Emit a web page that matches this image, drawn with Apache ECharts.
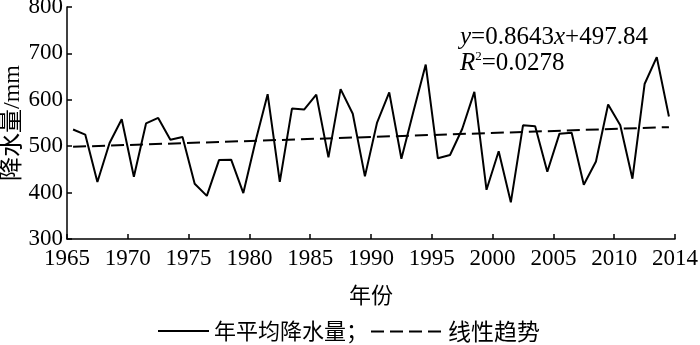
<!DOCTYPE html>
<html>
<head>
<meta charset="utf-8">
<script src="https://cdn.jsdelivr.net/npm/echarts@6/dist/echarts.min.js"></script>
<style>html,body{margin:0;padding:0;background:#fff}#c{width:700px;height:345px}</style>
</head>
<body>
<div id="c"></div>
<script>
const years = [1965,1966,1967,1968,1969,1970,1971,1972,1973,1974,1975,1976,1977,1978,1979,1980,1981,1982,1983,1984,1985,1986,1987,1988,1989,1990,1991,1992,1993,1994,1995,1996,1997,1998,1999,2000,2001,2002,2003,2004,2005,2006,2007,2008,2009,2010,2011,2012,2013,2014];
const precipitation = [536,525,423,507,558,434,549,561,514,520,419,393,470,471,399,510,612,423,581,579,611,476,623,570,435,551,616,473,576,676,474,481,537,617,406,489,379,545,543,445,527,529,417,467,590,545,430,634,692,564];
const trendYears = [1965, 2014];
const trendValues = [498.7, 541.1];
const xTickLabels = ['1965','1970','1975','1980','1985','1990','1995','2000','2005','2010','2014'];
const yTicks = [300,400,500,600,700,800];
const seriesNames = ['年平均降水量；','线性趋势'];

const firstYear = years[0];
const toX = y => y - firstYear + 0.5;
const serif = "'Liberation Serif','Noto Sans CJK SC'";
const cjk = "'Noto Sans CJK SC'";

const chart = echarts.init(document.getElementById('c'), null, {renderer:'canvas'});
chart.setOption({
  animation: false,
  backgroundColor: '#fff',
  grid: {left: 67, right: 25, top: 7, bottom: 106, containLabel: false, outerBoundsMode: 'none'},
  title: {
    left: 460, top: 24, padding: 0,
    text: '{i|y}{n|=0.8643}{i|x}{n|+497.84}\n{i|R}{s|2}{n|=0.0278}',
    textStyle: {
      fontWeight: 'normal',
      lineHeight: 26,
      rich: {
        i: {fontStyle: 'italic', fontWeight: 'normal', fontSize: 25, fontFamily: serif, color: '#000', lineHeight: 26},
        n: {fontWeight: 'normal', fontSize: 25, fontFamily: serif, color: '#000', lineHeight: 26},
        s: {fontWeight: 'normal', fontSize: 13, fontFamily: serif, color: '#000', verticalAlign: 'top', lineHeight: 26, padding: [0,0,6,0]}
      }
    }
  },
  legend: [
    {data: [seriesNames[0]], left: 157, top: 320, padding: 0, itemWidth: 51, itemHeight: 14, itemGap: 5,
     itemStyle: {opacity: 0},
     textStyle: {fontSize: 22, fontFamily: cjk, color: '#000'}},
    {data: [seriesNames[1]], left: 370, top: 320, padding: 0, itemWidth: 72, itemHeight: 14, itemGap: 5,
     itemStyle: {opacity: 0},
     textStyle: {fontSize: 23, fontFamily: cjk, color: '#000'}}
  ],
  xAxis: {
    type: 'value', min: 0, max: (years.length), interval: 5,
    name: '年份', nameLocation: 'middle', nameGap: 45,
    nameTextStyle: {fontSize: 22, fontFamily: cjk, color: '#000'},
    axisLine: {show: true, lineStyle: {color: '#000', width: 1.5}},
    axisTick: {show: true, inside: true, length: 5, lineStyle: {color: '#000', width: 1.5}},
    axisLabel: {fontSize: 23, fontFamily: serif, color: '#000', margin: 8,
      showMinLabel: true, showMaxLabel: true,
      formatter: v => xTickLabels[Math.round(v / 5)] || ''},
    splitLine: {show: false}
  },
  yAxis: {
    type: 'value', min: yTicks[0], max: yTicks[yTicks.length-1], interval: 100,
    name: '降水量/mm', nameLocation: 'middle', nameGap: 42, nameRotate: 90, nameMoveOverlap: false,
    nameTextStyle: {fontSize: 24, fontFamily: serif, color: '#000'},
    axisLine: {show: true, lineStyle: {color: '#000', width: 1.5}},
    axisTick: {show: true, inside: true, length: 5, lineStyle: {color: '#000', width: 1.5}},
    axisLabel: {fontSize: 23, fontFamily: serif, color: '#000', margin: 4},
    splitLine: {show: false}
  },
  series: [
    {name: seriesNames[0], type: 'line', symbol: 'none',
     data: years.map((y, i) => [toX(y), precipitation[i]]),
     lineStyle: {color: '#000', width: 2}, itemStyle: {color: '#000'}},
    {name: seriesNames[1], type: 'line', symbol: 'none',
     data: trendYears.map((y, i) => [toX(y), trendValues[i]]),
     lineStyle: {color: '#000', width: 2, type: [13, 6]}, itemStyle: {color: '#000'}}
  ]
});
</script>
</body>
</html>
